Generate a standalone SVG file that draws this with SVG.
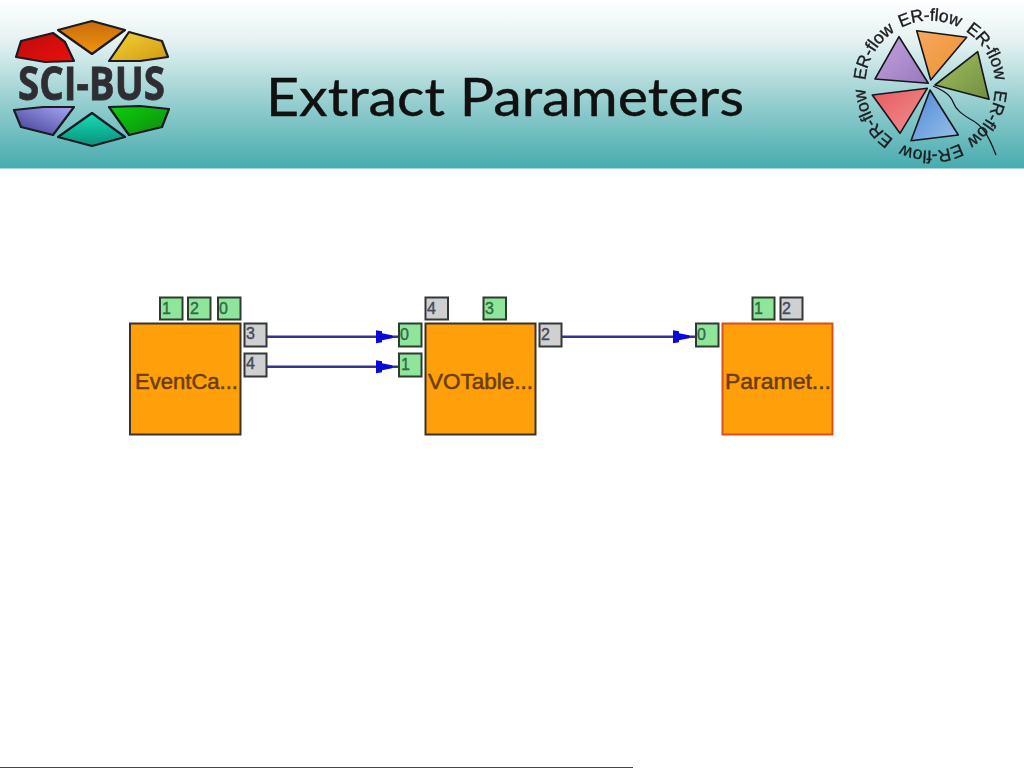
<svg xmlns="http://www.w3.org/2000/svg" width="1024" height="768" viewBox="0 0 1024 768">
<style>
.node{fill:#ff9f0a;stroke:#3a3226;stroke-width:2}
.portin{fill:#8fe69b;stroke:#2f3a30;stroke-width:2}
.portout{fill:#d0d0d0;stroke:#33383a;stroke-width:2}
.lbl{font-family:"Liberation Sans",Arial,sans-serif;font-size:21.5px;fill:#6b3d0a;stroke:#6b3d0a;stroke-width:.5}
.pin{font-family:"Liberation Sans",Arial,sans-serif;font-size:16px;fill:#2f6b45;stroke:#2f6b45;stroke-width:.4}
.pout{font-family:"Liberation Sans",Arial,sans-serif;font-size:16px;fill:#444a5c;stroke:#444a5c;stroke-width:.4}
.wire{fill:none;stroke:#35358f;stroke-width:2.4}
.er{font-family:"Liberation Sans",Arial,sans-serif;font-size:17.5px;fill:#1c1c20;stroke:#1c1c20;stroke-width:.35}
.petal{stroke:#14161c;stroke-width:1.6;stroke-linejoin:round}
.petal2{stroke:#1a1a20;stroke-width:2.2;stroke-linejoin:round}
</style>
<defs>
<linearGradient id="hdr" x1="0" y1="0" x2="0" y2="1"><stop offset="0" stop-color="#ffffff"/><stop offset=".25" stop-color="#e4f1f1"/><stop offset=".6" stop-color="#97cfd0"/><stop offset="1" stop-color="#47abae"/></linearGradient>
<linearGradient id="gRed" x1="0" y1="0" x2="1" y2="1"><stop offset="0" stop-color="#b80808"/><stop offset="1" stop-color="#f01010"/></linearGradient>
<linearGradient id="gOra" x1="0" y1="0" x2="0" y2="1"><stop offset="0" stop-color="#c86a08"/><stop offset="1" stop-color="#f0960f"/></linearGradient>
<linearGradient id="gYel" x1="0" y1="0" x2="1" y2="1"><stop offset="0" stop-color="#f4d43a"/><stop offset="1" stop-color="#d09a10"/></linearGradient>
<linearGradient id="gPur" x1="1" y1="0" x2="0" y2="1"><stop offset="0" stop-color="#a9a8f5"/><stop offset="1" stop-color="#3c3a90"/></linearGradient>
<linearGradient id="gTea" x1="0" y1="0" x2="0" y2="1"><stop offset="0" stop-color="#12e0b8"/><stop offset="1" stop-color="#108f7c"/></linearGradient>
<linearGradient id="gGre" x1="0" y1="0" x2="1" y2="1"><stop offset="0" stop-color="#10d010"/><stop offset="1" stop-color="#0a8a10"/></linearGradient>
<linearGradient id="tOra" x1="0" y1="0" x2="1" y2="1"><stop offset="0" stop-color="#f5a860"/><stop offset="1" stop-color="#f09030"/></linearGradient>
<linearGradient id="tGre" x1="0" y1="0" x2="1" y2="1"><stop offset="0" stop-color="#a4bf60"/><stop offset="1" stop-color="#6f9040"/></linearGradient>
<linearGradient id="tPur" x1="0" y1="0" x2="1" y2="1"><stop offset="0" stop-color="#c4a4dc"/><stop offset="1" stop-color="#9878bc"/></linearGradient>
<linearGradient id="tRed" x1="0" y1="0" x2="1" y2="1"><stop offset="0" stop-color="#e85a60"/><stop offset="1" stop-color="#f09090"/></linearGradient>
<linearGradient id="tBlu" x1="0" y1="0" x2="1" y2="1"><stop offset="0" stop-color="#4a88d8"/><stop offset="1" stop-color="#9cc0e8"/></linearGradient>
<filter id="soft" x="-5%" y="-5%" width="110%" height="110%"><feGaussianBlur stdDeviation=".55"/></filter>
<filter id="soft2" x="-5%" y="-5%" width="110%" height="110%"><feGaussianBlur stdDeviation=".4"/></filter>
<marker id="arrow" markerUnits="userSpaceOnUse" markerWidth="24" markerHeight="14" refX="22" refY="7" orient="auto"><path d="M0 0.500L6 1.500V3.500L16 5.500L17 7L16 8.500L6 10.500V12.500L0 13.500Z" fill="#0a0ad8"/></marker>
<path id="ring" d="M901.200 27.600A65 65 0 1 1 901.100 27.650"/>
</defs>
<rect width="1024" height="168.500" fill="url(#hdr)"/>
<text id="title" x="266" y="116" font-family="Lato,'Open Sans',sans-serif" font-size="53" fill="#111" stroke="#111" stroke-width=".4" textLength="478" lengthAdjust="spacingAndGlyphs">Extract Parameters</text>

<g id="logo-scibus" filter="url(#soft)">
<polygon class="petal2" fill="url(#gRed)" points="16,57 21,41 53,33 65,42 74,61 45,62"/>
<polygon class="petal2" fill="url(#gOra)" points="58,30 92,21 125,30 92,54"/>
<polygon class="petal2" fill="url(#gYel)" points="109,61 129,32 162,41 168,57 140,61"/>
<polygon class="petal2" fill="url(#gPur)" points="14,110 43,107 74,107 53,135 21,127"/>
<polygon class="petal2" fill="url(#gTea)" points="92,113 125,137 92,146 58,137"/>
<polygon class="petal2" fill="url(#gGre)" points="109,107 140,106 169,109 162,127 129,135"/>
<text x="18" y="100" font-family="'Open Sans','Noto Sans',sans-serif" font-weight="700" font-size="46" fill="#2f2f33" stroke="#2f2f33" stroke-width=".8" textLength="147" lengthAdjust="spacingAndGlyphs">SCI-BUS</text>
</g>

<g id="logo-erflow" filter="url(#soft2)">
<polygon class="petal" fill="url(#tOra)" points="916.700,30.700 966.700,37.300 930.700,80"/>
<polygon class="petal" fill="url(#tGre)" points="977.700,51.700 989,99.300 935,85"/>
<polygon class="petal" fill="url(#tPur)" points="899,36.700 928.300,83.300 875,79"/>
<polygon class="petal" fill="url(#tRed)" points="872.300,95 927.300,88.300 900,133.300"/>
<polygon class="petal" fill="url(#tBlu)" points="930,90 958.300,135 911,140.700"/>
<path d="M933 86C942 90 950 94 953 102C956 110 962 114 970 119C982 125 988 134 996 155" fill="none" stroke="#14161c" stroke-width="1.3"/>
<text class="er"><textPath href="#ring" startOffset="0" textLength="60">ER-flow</textPath></text>
<text class="er"><textPath href="#ring" startOffset="67" textLength="60">ER-flow</textPath></text>
<text class="er"><textPath href="#ring" startOffset="136" textLength="60">ER-flow</textPath></text>
<text class="er"><textPath href="#ring" startOffset="203" textLength="60">ER-flow</textPath></text>
<text class="er"><textPath href="#ring" startOffset="273" textLength="60">ER-flow</textPath></text>
<text class="er"><textPath href="#ring" startOffset="341" textLength="60">ER-flow</textPath></text>
</g>

<g id="connectors">
<path class="wire" d="M267 336.700H398" marker-end="url(#arrow)"/>
<path class="wire" d="M267 366.700H398" marker-end="url(#arrow)"/>
<path class="wire" d="M562 336.700H695" marker-end="url(#arrow)"/>
</g>

<g id="node-eventca">
<rect class="node" x="130" y="323.500" width="110.500" height="111"/>
<text class="lbl" x="135" y="389" textLength="103" lengthAdjust="spacingAndGlyphs">EventCa...</text>
<rect class="portin" x="160" y="297.500" width="22.500" height="22"/><text class="pin" x="162" y="314">1</text>
<rect class="portin" x="188" y="297.500" width="22.500" height="22"/><text class="pin" x="190" y="314">2</text>
<rect class="portin" x="218" y="297.500" width="22.500" height="22"/><text class="pin" x="219" y="314">0</text>
<rect class="portout" x="244.500" y="323.500" width="22" height="23"/><text class="pout" x="246" y="339">3</text>
<rect class="portout" x="244.500" y="353.500" width="22" height="23"/><text class="pout" x="246" y="369">4</text>
</g>

<g id="node-votable">
<rect class="node" x="425.500" y="323.500" width="110" height="111"/>
<text class="lbl" x="428" y="389" textLength="105" lengthAdjust="spacingAndGlyphs">VOTable...</text>
<rect class="portout" x="425.500" y="297.500" width="22.500" height="22"/><text class="pout" x="427" y="314">4</text>
<rect class="portin" x="483.500" y="297.500" width="22.500" height="22"/><text class="pin" x="485" y="314">3</text>
<rect class="portin" x="399" y="323.500" width="22.500" height="23"/><text class="pin" x="400" y="340">0</text>
<rect class="portin" x="399" y="353.500" width="22.500" height="23"/><text class="pin" x="401" y="370">1</text>
<rect class="portout" x="539.500" y="323.500" width="22" height="23"/><text class="pout" x="541" y="340">2</text>
</g>

<g id="node-paramet">
<rect class="node" x="722.500" y="323.500" width="110" height="111" style="stroke:#d8501c"/>
<text class="lbl" x="725" y="389" textLength="106" lengthAdjust="spacingAndGlyphs">Paramet...</text>
<rect class="portin" x="752.500" y="297.500" width="22" height="22"/><text class="pin" x="754" y="314">1</text>
<rect class="portout" x="780.500" y="297.500" width="22" height="22"/><text class="pout" x="782" y="314">2</text>
<rect class="portin" x="696" y="323.500" width="22.500" height="23"/><text class="pin" x="697" y="340">0</text>
</g>

<rect id="footer-rule" x="0" y="767" width="633" height="1" fill="#444"/>
</svg>
